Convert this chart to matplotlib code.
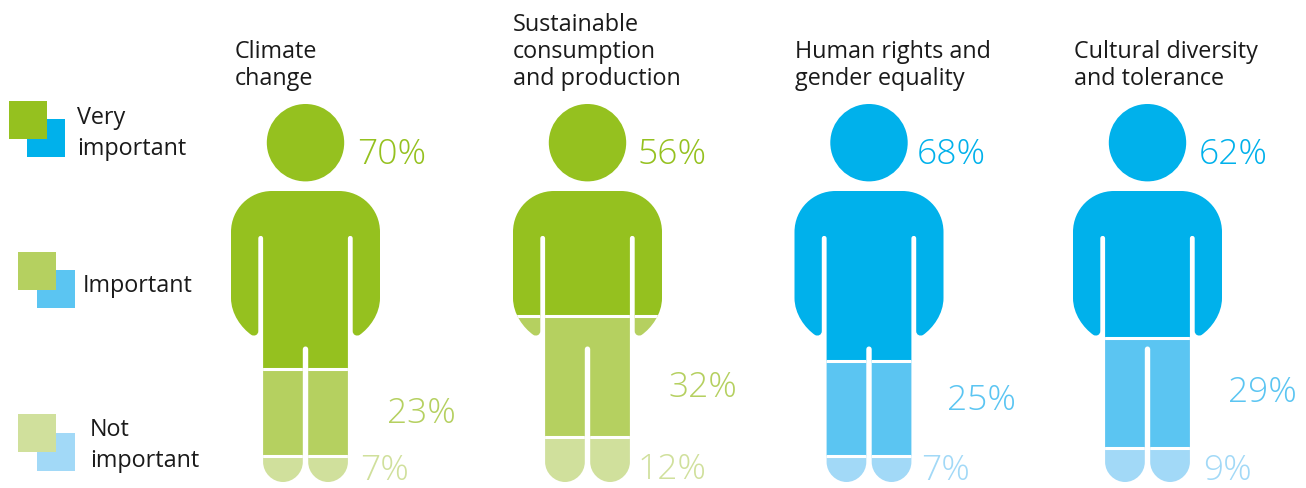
import matplotlib
matplotlib.use('Agg')
import matplotlib.pyplot as plt
from matplotlib.patches import PathPatch, Rectangle
from matplotlib.path import Path
from matplotlib.transforms import Affine2D

# data
topics = ['Climate\nchange', 'Sustainable\nconsumption\nand production',
          'Human rights and\ngender equality', 'Cultural diversity\nand tolerance']
very_important = [70, 56, 68, 62]
important = [23, 32, 25, 29]
not_important = [7, 12, 7, 9]
levels = ['Very\nimportant', 'Important', 'Not\nimportant']

# colours: dark, mid, light
greens = ['#95C11F', '#B5D060', '#D0E09C']
blues = ['#00B1EB', '#5BC5F2', '#A2D9F7']
topic_colors = [greens, greens, blues, blues]

W, H = 1306, 489
FONT = 'Open Sans'
TOP, BOTTOM = 105, 483  # person height in pixels

# pixel positions
centers = [305.5, 587.5, 869, 1147.5]
title_x = [235, 513, 795, 1074]
big_x = [357, 638, 917, 1199]
mid_pos = [(387, 423), (668, 397), (947, 410), (1228, 402)]
low_pos = [(360, 480), (638, 479), (921, 480), (1203, 480)]


def add_side(verts, codes, side):
    """Right side going down from the shoulders to the crotch slit (side=1),
    or the same outline walked back up on the left (side=-1)"""
    steps = [
        (33.5, 87),
        ((56, 87), (74.5, 105), (74.5, 128)),
        (74.5, 194),
        ((74.5, 210), (64, 224), (54, 231)),
        ((51, 232.5), (47.2, 231), (47.2, 227)),
        (47.2, 134.5),
        ((47.2, 131), (42.4, 131), (42.4, 134.5)),
        (42.4, 358),
        ((42.4, 369), (33, 378), (22.5, 378)),
        ((12, 378), (2.7, 369), (2.7, 358)),
        (2.7, 245.5),
    ]
    if side == 1:
        for st in steps:
            if isinstance(st[0], tuple):
                verts += list(st)
                codes += [Path.CURVE4] * 3
            else:
                verts.append(st)
                codes.append(Path.LINETO)
    else:
        # end point of each step, to walk the list backwards
        ends = [st[-1] if isinstance(st[0], tuple) else st for st in steps]
        for n in range(len(steps) - 1, 0, -1):
            st = steps[n]
            prev = ends[n - 1]
            if isinstance(st[0], tuple):
                verts += [(-st[1][0], st[1][1]), (-st[0][0], st[0][1]), (-prev[0], prev[1])]
                codes += [Path.CURVE4] * 3
            else:
                verts.append((-prev[0], prev[1]))
                codes.append(Path.LINETO)


def person_path():
    """Silhouette, x from the centre and y from the top of the head, in pixels"""
    k = 0.5523
    r = 38.7
    verts = [(0, 0),
             (k * r, 0), (r, r - k * r), (r, r),
             (r, r + k * r), (k * r, 2 * r), (0, 2 * r),
             (-k * r, 2 * r), (-r, r + k * r), (-r, r),
             (-r, r - k * r), (-k * r, 0), (0, 0),
             (0, 0)]
    codes = [Path.MOVETO] + [Path.CURVE4] * 12 + [Path.CLOSEPOLY]

    verts.append((0, 87))
    codes.append(Path.MOVETO)
    add_side(verts, codes, 1)
    verts += [(2.7, 241.5), (-2.7, 241.5), (-2.7, 245.5)]
    codes += [Path.CURVE4] * 3
    add_side(verts, codes, -1)
    verts += [(0, 87), (0, 87)]
    codes += [Path.LINETO, Path.CLOSEPOLY]
    return Path(verts, codes)


fig = plt.figure(figsize=(W / 100, H / 100), dpi=100)
bg = fig.add_axes([0, 0, 1, 1])
bg.set_xlim(0, W)
bg.set_ylim(H, 0)
bg.axis('off')

person = person_path()

for i in range(len(topics)):
    half_w = 80
    ax = fig.add_axes([(centers[i] - half_w) / W, 1 - BOTTOM / H, 2 * half_w / W, (BOTTOM - TOP) / H])
    ax.set_xlim(-half_w, half_w)
    ax.set_ylim(100, 0)
    ax.axis('off')
    to_data = Affine2D().scale(1, 100 / (BOTTOM - TOP)) + ax.transData
    clip = PathPatch(person, transform=to_data, facecolor='none', edgecolor='none')
    ax.add_patch(clip)

    values = [very_important[i], important[i], not_important[i]]
    start = 0
    for val, col in zip(values, topic_colors[i]):
        bar = ax.bar(0, val, bottom=start, width=2 * half_w, color=col, linewidth=0)[0]
        bar.set_clip_path(clip)
        start += val
        if start < 100:
            line = ax.axhline(start, color='white', lw=2.2)
            line.set_clip_path(clip)

    # titles, bottom line always on the same baseline
    lines = topics[i].split('\n')
    for j, txt in enumerate(reversed(lines)):
        bg.text(title_x[i], 85 - 27 * j, txt, fontsize=16.8, family=FONT, color='#1a1a1a', va='baseline')

    # percent labels
    bg.text(big_x[i], 164, f'{very_important[i]}%', fontsize=25.5, family=FONT, weight='light',
            color=topic_colors[i][0], va='baseline')
    bg.text(mid_pos[i][0], mid_pos[i][1], f'{important[i]}%', fontsize=25.5, family=FONT, weight='light',
            color=topic_colors[i][1], va='baseline')
    bg.text(low_pos[i][0], low_pos[i][1], f'{not_important[i]}%', fontsize=25.5, family=FONT, weight='light',
            color=topic_colors[i][2], va='baseline')

# legend
legend_boxes = [(9, 102, 27, 120), (18, 253, 37, 271), (18, 415, 37, 434)]
legend_text_x = [77, 83, 90]
legend_base = [155, 292, 467]
for k in range(3):
    gx, gy, bx, by = legend_boxes[k]
    bg.add_patch(Rectangle((bx, by), 38, 38, facecolor=blues[k], edgecolor='none'))
    bg.add_patch(Rectangle((gx, gy), 38, 38, facecolor=greens[k], edgecolor='none'))
    for j, txt in enumerate(reversed(levels[k].split('\n'))):
        bg.text(legend_text_x[k], legend_base[k] - 31 * j, txt, fontsize=16.8, family=FONT,
                color='#1a1a1a', va='baseline')

plt.savefig('out.png', dpi=100)
plt.close()
